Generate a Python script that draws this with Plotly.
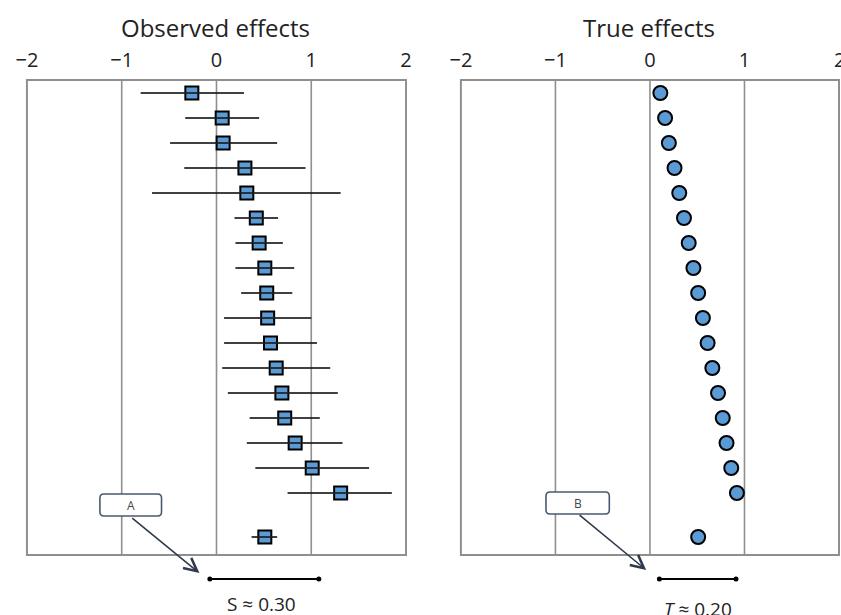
import plotly.graph_objects as go

# ---------------- data ----------------
rows = list(range(1, 18))
summary_row = 18.76

obs_est = [-0.26, 0.06, 0.07, 0.30, 0.32, 0.42, 0.45, 0.51, 0.53, 0.54, 0.57, 0.63, 0.69, 0.72, 0.83, 1.01, 1.31]
obs_lo = [-0.80, -0.33, -0.49, -0.34, -0.68, 0.19, 0.20, 0.20, 0.26, 0.08, 0.08, 0.06, 0.12, 0.35, 0.32, 0.41, 0.75]
obs_hi = [0.29, 0.45, 0.64, 0.94, 1.31, 0.65, 0.70, 0.82, 0.80, 1.00, 1.06, 1.20, 1.28, 1.09, 1.33, 1.61, 1.85]
obs_summary = 0.51
obs_summary_ci = [0.37, 0.64]

true_eff = [0.11, 0.16, 0.20, 0.26, 0.31, 0.36, 0.41, 0.46, 0.51, 0.56, 0.61, 0.66, 0.72, 0.77, 0.81, 0.86, 0.92]
true_summary = 0.51

obs_spread = [-0.07, 1.08]
true_spread = [0.10, 0.91]
spread_row = 20.44

tick_vals = [-2, -1, 0, 1, 2]
titles = ["Observed effects", "True effects"]
spread_labels = ["S ≈ 0.30", "<i>T</i> ≈ 0.20"]
box_labels = ["A", "B"]

# ---------------- style ----------------
FILL = "#5B9BD5"
FRAME = "#8f8f8f"
DARK = "#2f3b4c"
FONT = "Open Sans"
W, H = 841, 615
box_top, box_bot = 0.48, 19.48

fig = go.Figure()

# CI lines (drawn over markers like the reference)
ci_x, ci_y = [], []
for lo, hi, r in zip(obs_lo + [obs_summary_ci[0]], obs_hi + [obs_summary_ci[1]], rows + [summary_row]):
    ci_x += [lo, hi, None]
    ci_y += [r, r, None]

fig.add_trace(go.Scatter(x=obs_est + [obs_summary], y=rows + [summary_row], mode="markers",
                         marker=dict(symbol="square", size=13, color=FILL, line=dict(color="black", width=2)),
                         xaxis="x", yaxis="y", showlegend=False, hoverinfo="skip"))
fig.add_trace(go.Scatter(x=ci_x, y=ci_y, mode="lines", line=dict(color="rgba(30,30,30,0.85)", width=1.8),
                         xaxis="x", yaxis="y", showlegend=False, hoverinfo="skip"))

fig.add_trace(go.Scatter(x=true_eff + [true_summary], y=rows + [summary_row], mode="markers",
                         marker=dict(symbol="circle", size=14, color=FILL, line=dict(color="black", width=2)),
                         xaxis="x2", yaxis="y", showlegend=False, hoverinfo="skip"))

# spread brackets
for xa, sp in (("x", obs_spread), ("x2", true_spread)):
    fig.add_trace(go.Scatter(x=sp, y=[spread_row, spread_row], mode="lines+markers",
                             line=dict(color="black", width=1.8), marker=dict(size=5, color="black"),
                             xaxis=xa, yaxis="y", showlegend=False, hoverinfo="skip"))

shapes = []
annotations = []
for xr in ("x", "x2"):
    shapes.append(dict(type="rect", xref=xr, yref="y", x0=-2, x1=2, y0=box_top, y1=box_bot,
                       line=dict(color=FRAME, width=2), layer="below"))
    for g in (-1, 0, 1):
        shapes.append(dict(type="line", xref=xr, yref="y", x0=g, x1=g, y0=box_top, y1=box_bot,
                           line=dict(color=FRAME, width=1.6), layer="below"))

# labelled boxes (rounded) + arrows
def rounded(x0, x1, y0, y1, rx, ry):
    return (f"M{x0+rx},{y0} L{x1-rx},{y0} Q{x1},{y0} {x1},{y0+ry} L{x1},{y1-ry} Q{x1},{y1} {x1-rx},{y1} "
            f"L{x0+rx},{y1} Q{x0},{y1} {x0},{y1-ry} L{x0},{y0+ry} Q{x0},{y0} {x0+rx},{y0} Z")

box_specs = [
    ("x", -1.23, -0.58, 17.04, 17.92, -0.905, 17.96, -0.18, 20.20, 95.0),
    ("x2", -1.10, -0.43, 16.96, 17.84, -0.76, 17.84, -0.04, 20.08, 94.75),
]
for (xr, bx0, bx1, by0, by1, tx, ty, hx, hy, ppu), lab in zip(box_specs, box_labels):
    shapes.append(dict(type="path", xref=xr, yref="y", path=rounded(bx0, bx1, by0, by1, 4 / ppu, 4 / 25),
                       line=dict(color="#4a5873", width=1.6), fillcolor="white", layer="above"))
    annotations.append(dict(x=(bx0 + bx1) / 2, y=(by0 + by1) / 2, xref=xr, yref="y", text=lab,
                            showarrow=False, font=dict(family=FONT, size=12, color="#444")))
    annotations.append(dict(x=hx, y=hy, ax=tx, ay=ty, xref=xr, yref="y", axref=xr, ayref="y",
                            text="", showarrow=True, arrowhead=5, arrowsize=1.6, arrowwidth=1.6,
                            arrowcolor=DARK, standoff=0, startstandoff=0))

# spread labels
annotations.append(dict(x=0.47, y=21.45, xref="x", yref="y", text=spread_labels[0], showarrow=False,
                        font=dict(family=FONT, size=19, color="#222")))
annotations.append(dict(x=0.51, y=21.65, xref="x2", yref="y", text=spread_labels[1], showarrow=False,
                        font=dict(family=FONT, size=19, color="#222")))

# titles
for t, cx in zip(titles, (214, 649)):
    annotations.append(dict(x=cx / W, y=1 - 27 / H, xref="paper", yref="paper", text=t,
                            showarrow=False, xanchor="center", yanchor="middle",
                            font=dict(family=FONT, size=24, color="#222")))

# right-most tick label of the right panel, cut by the picture edge as in the reference
annotations.append(dict(x=tick_vals[-1], y=1 - 59 / H, xref="x2", yref="paper", text=str(tick_vals[-1]),
                        showarrow=False, xanchor="center", yanchor="middle",
                        font=dict(family=FONT, size=20, color="#222")))

xax = dict(range=[-2.1, 2.1], side="top", tickvals=tick_vals, ticks="", showgrid=False, zeroline=False,
           showline=False, tickfont=dict(family=FONT, size=20, color="#222"), anchor="y", fixedrange=True,
           ticklabelstandoff=1)

c0L, c0R = 215, 649.5
fig.update_layout(
    width=W, height=H, margin=dict(l=0, r=0, t=0, b=0),
    paper_bgcolor="white", plot_bgcolor="white",
    xaxis=dict(xax, domain=[(c0L - 2.1 * 95) / W, (c0L + 2.1 * 95) / W]),
    xaxis2=dict(xax, range=[-2.1, 2.015], tickvals=tick_vals[:-1],
                domain=[(c0R - 2.1 * 94.75) / W, min(1.0, (c0R + 2.015 * 94.75) / W)]),
    yaxis=dict(range=[21.88, 0.2], domain=[0, (H - 73) / H], showticklabels=False, showgrid=False,
               zeroline=False, showline=False, ticks="", fixedrange=True),
    shapes=shapes, annotations=annotations,
)

fig.write_html("out.html", config={"displayModeBar": False},
               post_script="document.body.style.margin='0';document.body.style.overflow='hidden';")
